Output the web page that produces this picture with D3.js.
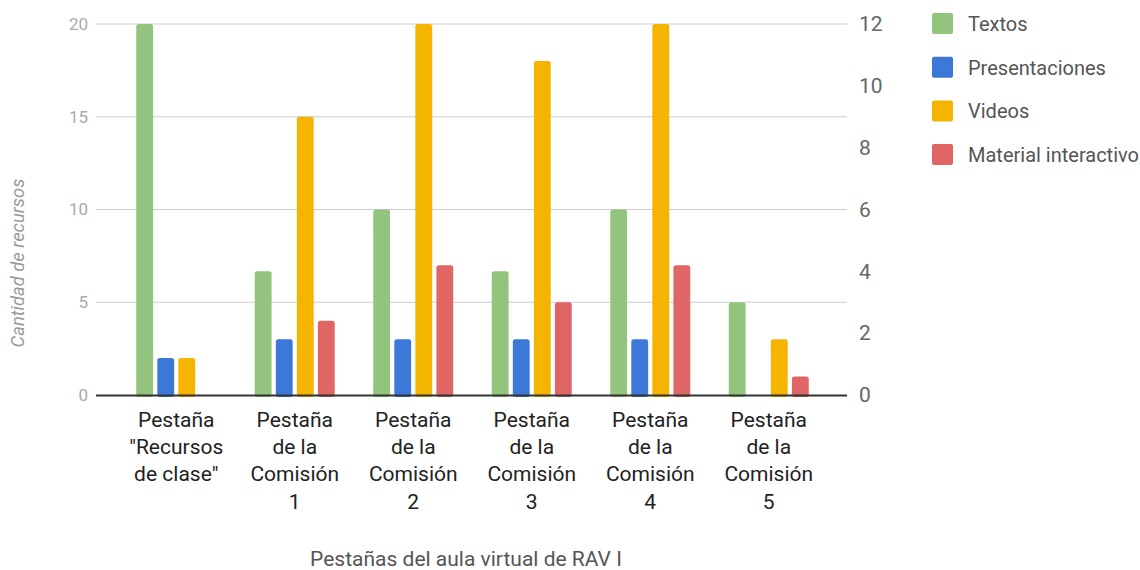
<!DOCTYPE html>
<html><head><meta charset="utf-8">
<script src="https://cdn.jsdelivr.net/npm/d3@7"></script>
<style>body{margin:0;background:#fff}svg{display:block}</style>
</head><body><svg id="c" width="1140" height="570"></svg>
<script>
const categories = [["Pestaña","\"Recursos","de clase\""],["Pestaña","de la","Comisión","1"],["Pestaña","de la","Comisión","2"],["Pestaña","de la","Comisión","3"],["Pestaña","de la","Comisión","4"],["Pestaña","de la","Comisión","5"]];
const seriesNames = ["Textos","Presentaciones","Videos","Material interactivo"];
const textos = [12,4,6,4,6,3];          // right axis
const presentaciones = [2,3,3,3,3,0];   // left axis
const videos = [2,15,20,18,20,3];       // left axis
const material = [0,4,7,5,7,1];         // left axis
const leftTicks = [0,5,10,15,20];
const rightTicks = [0,2,4,6,8,10,12];
const colors = ["#93c47d","#3c78d8","#f4b400","#e06666"];

(function(){
const svg = d3.select("#c");
const font = "Roboto, sans-serif";
const plotTop = 24, bottom = 395, gl = 96, gr = 847;
const yL = d3.scaleLinear().domain([0,20]).range([bottom, plotTop]);
const yR = d3.scaleLinear().domain([0,12]).range([bottom, plotTop]);
const x0 = d3.scaleBand().domain(d3.range(categories.length)).range([117, 828]).paddingInner(0).paddingOuter(0);
const x1 = d3.scaleBand().domain(d3.range(4)).range([0, 80]).paddingInner(0.2).paddingOuter(0);

svg.append("g").selectAll("line").data(leftTicks.filter(d=>d>0)).join("line")
  .attr("x1", gl).attr("x2", gr).attr("y1", d=>yL(d)).attr("y2", d=>yL(d))
  .attr("stroke", "#cccccc").attr("stroke-width", 1);

const axL = svg.append("g").attr("transform", `translate(${gl-8},0)`)
  .call(d3.axisLeft(yL).tickValues(leftTicks).tickSize(0).tickPadding(0));
axL.select(".domain").remove();
axL.selectAll("text").attr("font-family", font).attr("font-size", 17).attr("fill", "#aaaaaa");

const axR = svg.append("g").attr("transform", `translate(${gr+12},0)`)
  .call(d3.axisRight(yR).tickValues(rightTicks).tickSize(0).tickPadding(0));
axR.select(".domain").remove();
axR.selectAll("text").attr("font-family", font).attr("font-size", 21).attr("fill", "#666666");

const seriesData = [textos, presentaciones, videos, material];
const scales = [yR, yL, yL, yL];
const groupW = 80;
const g = svg.append("g");
categories.forEach((c, i) => {
  const cx = x0(i) + x0.bandwidth()/2 - groupW/2;
  seriesData.forEach((s, k) => {
    const v = s[i];
    if (v <= 0) return;
    const y = scales[k](v);
    g.append("rect")
      .attr("x", cx + x1(k)).attr("width", x1.bandwidth())
      .attr("y", y).attr("height", bottom - y + 2)
      .attr("rx", 2.5).attr("fill", colors[k]);
  });
});

svg.append("line").attr("x1", gl).attr("x2", gr).attr("y1", bottom+0.5).attr("y2", bottom+0.5)
  .attr("stroke", "#333333").attr("stroke-width", 2);

categories.forEach((lines, i) => {
  const t = svg.append("text").attr("text-anchor", "middle")
    .attr("font-family", font).attr("font-size", 21).attr("fill", "#222222");
  lines.forEach((ln, j) => {
    t.append("tspan").attr("x", x0(i) + x0.bandwidth()/2).attr("y", 427 + j*27.2).text(ln);
  });
});

svg.append("text").attr("x", 466).attr("y", 566).attr("text-anchor", "middle")
  .attr("font-family", font).attr("font-size", 21).attr("fill", "#555555")
  .text("Pestañas del aula virtual de RAV I");
svg.append("text").attr("transform", "translate(24,263) rotate(-90)").attr("text-anchor", "middle")
  .attr("font-family", font).attr("font-size", 18.4).attr("font-style", "italic").attr("fill", "#999999")
  .text("Cantidad de recursos");

const lg = svg.append("g");
seriesNames.forEach((n, k) => {
  const y = 24 + k*43.7;
  lg.append("rect").attr("x", 932).attr("y", y-11).attr("width", 21).attr("height", 21).attr("rx", 2).attr("fill", colors[k]);
  lg.append("text").attr("x", 968).attr("y", y+7).attr("font-family", font).attr("font-size", 20).attr("fill", "#555555").text(n);
});
})();
</script></body></html>
